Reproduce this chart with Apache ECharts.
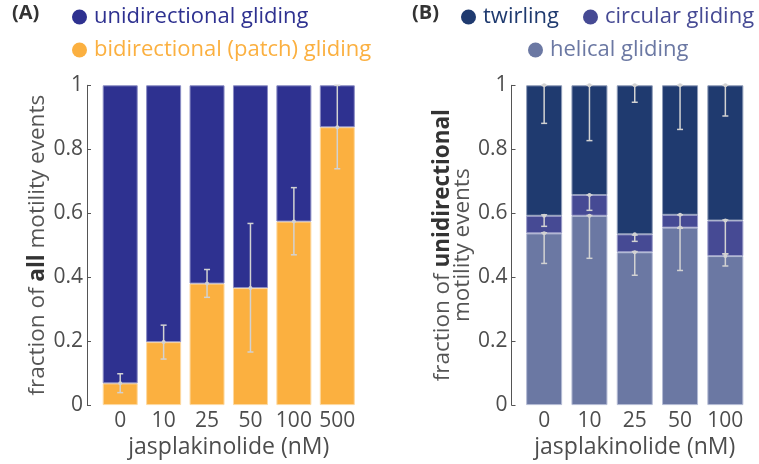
<!DOCTYPE html>
<html>
<head>
<meta charset="utf-8">
<script src="https://cdn.jsdelivr.net/npm/echarts@6/dist/echarts.min.js"></script>
<style>
html,body{margin:0;padding:0;background:#fff;}
#main{width:759px;height:464px;}
</style>
</head>
<body>
<div id="main"></div>
<script>
// panel A: fraction of all motility events
var dosesA = ['0', '10', '25', '50', '100', '500'];
var bidirectional = [0.068, 0.197, 0.380, 0.366, 0.574, 0.869];
var unidirectional = [0.932, 0.803, 0.620, 0.634, 0.426, 0.131];
var bidiErrLow = [0.039, 0.144, 0.337, 0.166, 0.470, 0.739];
var bidiErrHigh = [0.098, 0.250, 0.424, 0.568, 0.680, 1.000];

// panel B: fraction of unidirectional motility events
var dosesB = ['0', '10', '25', '50', '100'];
var helical = [0.537, 0.592, 0.478, 0.555, 0.466];
var circular = [0.055, 0.065, 0.056, 0.040, 0.111];
var twirling = [0.408, 0.343, 0.466, 0.405, 0.423];
var helicalErrLow = [0.443, 0.459, 0.406, 0.421, 0.435];
var helicalErrHigh = [0.539, 0.593, 0.480, 0.555, 0.473];
var circularErrLow = [0.559, 0.609, 0.512, 0.553, 0.473];
var circularErrHigh = [0.595, 0.657, 0.532, 0.595, 0.579];
var twirlingErrLow = [0.881, 0.827, 0.947, 0.862, 0.904];
var twirlingErrHigh = [1, 1, 1, 1, 1];

var FONT = 'Open Sans';
var colA = {uni: '#2E3190', bi: '#FBB040'};
var colB = {tw: '#1F3A6F', ci: '#464A94', he: '#6B78A3'};

var chart = echarts.init(document.getElementById('main'));

//误差线
function errSeries(name, xi, yi, lo, hi, mean) {
    var d = [];
    for (var i = 0; i < lo.length; i++) d.push([i, lo[i], hi[i], mean[i]]);
    return {
        name: name, type: 'custom', xAxisIndex: xi, yAxisIndex: yi, z: 10,
        silent: true, data: d,
        renderItem: function (params, api) {
            var x = api.value(0);
            var p1 = api.coord([x, api.value(1)]);
            var p2 = api.coord([x, api.value(2)]);
            var pm = api.coord([x, api.value(3)]);
            var st = {stroke: '#d2d2d2', lineWidth: 1.5};
            var w = 3;
            return {
                type: 'group',
                children: [
                    {type: 'line', shape: {x1: p1[0], y1: p1[1], x2: p2[0], y2: p2[1]}, style: st},
                    {type: 'line', shape: {x1: p1[0] - w, y1: p1[1], x2: p1[0] + w, y2: p1[1]}, style: st},
                    {type: 'line', shape: {x1: p2[0] - w, y1: p2[1], x2: p2[0] + w, y2: p2[1]}, style: st},
                    {type: 'circle', shape: {cx: pm[0], cy: pm[1], r: 2}, style: {fill: '#d2d2d2'}}
                ]
            };
        }
    };
}

function sumArr(a, b) { return a.map(function (v, i) { return v + b[i]; }); }

var yAxisBase = {
    type: 'value', min: 0, max: 1, interval: 0.2,
    axisLine: {show: true, lineStyle: {color: '#555', width: 1}},
    axisTick: {show: true, inside: true, length: 4, lineStyle: {color: '#555'}},
    splitLine: {show: false},
    axisLabel: {color: '#4d4d4d', fontSize: 21, fontFamily: FONT, margin: 4},
    nameLocation: 'middle',
    nameTextStyle: {color: '#555', fontSize: 22, fontFamily: FONT}
};
var xAxisBase = {
    type: 'category',
    axisLine: {show: false}, axisTick: {show: false},
    axisLabel: {color: '#4d4d4d', fontSize: 21, fontFamily: FONT, margin: 5, interval: 0},
    name: 'jasplakinolide (nM)', nameLocation: 'middle', nameGap: 29,
    nameTextStyle: {color: '#4d4d4d', fontSize: 23, fontFamily: FONT}
};

function legendAt(name, color, left, top) {
    return {
        data: [name], left: left, top: top, icon: 'circle',
        itemWidth: 15, itemHeight: 15, itemGap: 0, padding: 0, selectedMode: false,
        itemStyle: {borderWidth: 0},
        textStyle: {color: color, fontSize: 22, fontFamily: FONT, padding: [0, 0, 0, 2]}
    };
}

var option = {
    backgroundColor: '#fff',
    animation: false,
    graphic: [
        {type: 'text', left: 12, top: 3, style: {text: '(A)', fontSize: 20, fontWeight: 'bold', fontFamily: FONT, fill: '#333'}},
        {type: 'text', left: 412, top: 3, style: {text: '(B)', fontSize: 20, fontWeight: 'bold', fontFamily: FONT, fill: '#333'}}
    ],
    legend: [
        legendAt('unidirectional gliding', colA.uni, 72, 6),
        legendAt('bidirectional (patch) gliding', colA.bi, 72, 39),
        legendAt('twirling', colB.tw, 461, 6),
        legendAt('circular gliding', colB.ci, 583, 6),
        legendAt('helical gliding', colB.he, 528, 39)
    ],
    grid: [
        {left: 98.5, top: 85.3, width: 260.5, height: 324.7},
        {left: 521.5, top: 85.3, width: 226.5, height: 325}
    ],
    xAxis: [
        Object.assign({}, xAxisBase, {gridIndex: 0, data: dosesA}),
        Object.assign({}, xAxisBase, {gridIndex: 1, data: dosesB})
    ],
    yAxis: [
        Object.assign({}, yAxisBase, {
            gridIndex: 0, offset: 11.5, nameGap: 35,
            name: '{n|fraction of }{b|all}{n| motility events}',
            nameTextStyle: {rich: {
                n: {color: '#555', fontSize: 22.5, fontFamily: FONT},
                b: {color: '#333', fontSize: 22.5, fontFamily: FONT, fontWeight: 'bold'}
            }}
        }),
        Object.assign({}, yAxisBase, {
            gridIndex: 1, offset: 10, nameGap: 29,
            name: '{n|fraction of }{b|unidirectional}\n{n|motility events}',
            nameTextStyle: {lineHeight: 20, rich: {
                n: {color: '#555', fontSize: 22.5, fontFamily: FONT, lineHeight: 20},
                b: {color: '#333', fontSize: 22.5, fontFamily: FONT, fontWeight: 'bold', lineHeight: 20}
            }}
        })
    ],
    series: [
        {name: 'bidirectional (patch) gliding', type: 'bar', stack: 'A', xAxisIndex: 0, yAxisIndex: 0,
         barWidth: 35, data: bidirectional,
         itemStyle: {color: colA.bi, borderColor: '#fdd9a0', borderWidth: 1}},
        {name: 'unidirectional gliding', type: 'bar', stack: 'A', xAxisIndex: 0, yAxisIndex: 0,
         barWidth: 35, data: unidirectional,
         itemStyle: {color: colA.uni, borderColor: '#8a8cc4', borderWidth: 1}},
        errSeries('errA', 0, 0, bidiErrLow, bidiErrHigh, bidirectional),

        {name: 'helical gliding', type: 'bar', stack: 'B', xAxisIndex: 1, yAxisIndex: 1,
         barWidth: 36, data: helical,
         itemStyle: {color: colB.he, borderColor: '#b4bbd4', borderWidth: 1}},
        {name: 'circular gliding', type: 'bar', stack: 'B', xAxisIndex: 1, yAxisIndex: 1,
         barWidth: 36, data: circular,
         itemStyle: {color: colB.ci, borderColor: '#9a9cc8', borderWidth: 1}},
        {name: 'twirling', type: 'bar', stack: 'B', xAxisIndex: 1, yAxisIndex: 1,
         barWidth: 36, data: twirling,
         itemStyle: {color: colB.tw, borderColor: '#8f9cb8', borderWidth: 1}},
        errSeries('errHe', 1, 1, helicalErrLow, helicalErrHigh, helical),
        errSeries('errCi', 1, 1, circularErrLow, circularErrHigh, sumArr(helical, circular)),
        errSeries('errTw', 1, 1, twirlingErrLow, twirlingErrHigh, twirlingErrHigh)
    ]
};
chart.setOption(option);
</script>
</body>
</html>
